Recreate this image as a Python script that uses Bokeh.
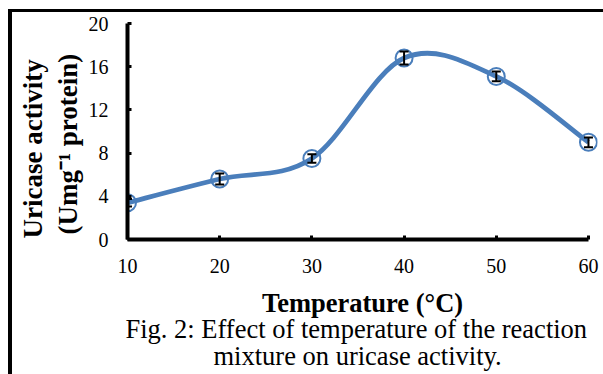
from bokeh.plotting import figure
from bokeh.models import (Range1d, FixedTicker, Whisker, TeeHead, ColumnDataSource,
                          Title, GlyphRenderer)
from bokeh.embed import file_html
from bokeh.resources import INLINE

# ---- data ----
temps = [10, 20, 30, 40, 50, 60]
activity = [3.4, 5.6, 7.5, 16.8, 15.1, 9.0]
errors = [0.35, 0.5, 0.4, 0.6, 0.45, 0.45]
x_ticks = [10, 20, 30, 40, 50, 60]
y_ticks = [0, 4, 8, 12, 16, 20]

x_title = "Temperature (\u00b0C)"
y_title_1 = "Uricase activity"
y_title_2 = "(Umg\u207b\u00b9 protein)"
caption_1 = "Fig. 2: Effect of temperature of the reaction"
caption_2 = "mixture on uricase activity."

BLUE = "#4A7EBB"
SERIF = "Liberation Serif"

HAS_CLIP = "clip" in GlyphRenderer.properties()

W, H = 603, 374
ML, MT, MB = 127, 23, 135
if HAS_CLIP:
    MR, x_end = 15, 60
else:
    MR, x_end = 6, 60.98

p = figure(width=W, height=H, output_backend="svg", toolbar_location=None,
           x_range=Range1d(10, x_end), y_range=Range1d(0, 20),
           min_border_left=ML, min_border_right=MR, min_border_top=MT,
           min_border_bottom=MB)
p.styles = {"box-shadow": "inset 8px 9px 0 0 white, inset 12px 12px 0 0 black"}
p.outline_line_color = None
p.background_fill_color = "white"
p.border_fill_color = None
p.xgrid.grid_line_color = None
p.ygrid.grid_line_color = None

for ax in (p.xaxis[0], p.yaxis[0]):
    ax.axis_line_color = "black"
    ax.axis_line_width = 4
    ax.major_tick_line_color = "black"
    ax.major_tick_line_width = 3
    ax.major_tick_in = 4
    ax.major_tick_out = 0
    ax.minor_tick_line_color = None
    ax.major_label_text_font = SERIF
    ax.major_label_text_font_size = "20px"
    ax.major_label_text_color = "black"

p.xaxis.major_label_standoff = 19
p.yaxis.major_label_standoff = 19
p.xaxis.ticker = FixedTicker(ticks=x_ticks)
p.yaxis.ticker = FixedTicker(ticks=y_ticks)
p.xaxis.bounds = (x_ticks[0], x_ticks[-1])

p.xaxis.axis_label = x_title
p.xaxis.axis_label_text_font = SERIF
p.xaxis.axis_label_text_font_style = "bold"
p.xaxis.axis_label_text_font_size = "26.5px"
p.xaxis.axis_label_text_color = "black"
p.xaxis.axis_label_standoff = 12

# smooth (Excel-like) curve through the data points
n = len(temps)
def pt(i):
    i = min(max(i, 0), n - 1)
    return temps[i], activity[i]

seg = dict(x0=[], y0=[], x1=[], y1=[], cx0=[], cy0=[], cx1=[], cy1=[])
for i in range(n - 1):
    xa, ya = pt(i)
    xb, yb = pt(i + 1)
    xp, yp = pt(i - 1)
    xn, yn = pt(i + 2)
    seg["x0"].append(xa); seg["y0"].append(ya)
    seg["x1"].append(xb); seg["y1"].append(yb)
    seg["cx0"].append(xa + (xb - xp) / 6); seg["cy0"].append(ya + (yb - yp) / 6)
    seg["cx1"].append(xb - (xn - xa) / 6); seg["cy1"].append(yb - (yn - ya) / 6)

p.bezier(x0="x0", y0="y0", x1="x1", y1="y1", cx0="cx0", cy0="cy0", cx1="cx1", cy1="cy1",
         source=ColumnDataSource(seg), line_color=BLUE, line_width=4.8)

src = ColumnDataSource(dict(x=temps, y=activity,
                            upper=[a + e for a, e in zip(activity, errors)],
                            lower=[a - e for a, e in zip(activity, errors)]))
sc = p.scatter("x", "y", source=src, marker="circle", size=17, fill_color=None,
               line_color=BLUE, line_width=2)

w = Whisker(base="x", upper="upper", lower="lower", source=src, level="annotation",
            line_color="black", line_width=2,
            upper_head=TeeHead(size=9, line_color="black", line_width=2),
            lower_head=TeeHead(size=9, line_color="black", line_width=2))
p.add_layout(w)

if HAS_CLIP:
    sc.clip = False
    if "clip" in Whisker.properties():
        w.clip = False

def make_title(text, align, offset, standoff, size, style):
    t = Title(text=text, align=align, offset=offset, standoff=0,
              text_font=SERIF, text_font_style=style, text_font_size=size,
              text_color="black")
    try:
        t.standoff = standoff
    except Exception:
        t.standoff = max(standoff, 0)
    return t

# y axis title lines (left; nearest to axis first)
p.add_layout(make_title(y_title_2, "left", 5, 6, "27px", "bold"), "left")
p.add_layout(make_title(y_title_1, "left", 1, 0, "27px", "bold"), "left")

# figure caption (below)
p.add_layout(make_title(caption_1, "left", -2, -17, "26.5px", "normal"), "below")
p.add_layout(make_title(caption_2, "left", 86, 6, "26.5px", "normal"), "below")

open("out.html", "w").write(file_html(p, INLINE))
